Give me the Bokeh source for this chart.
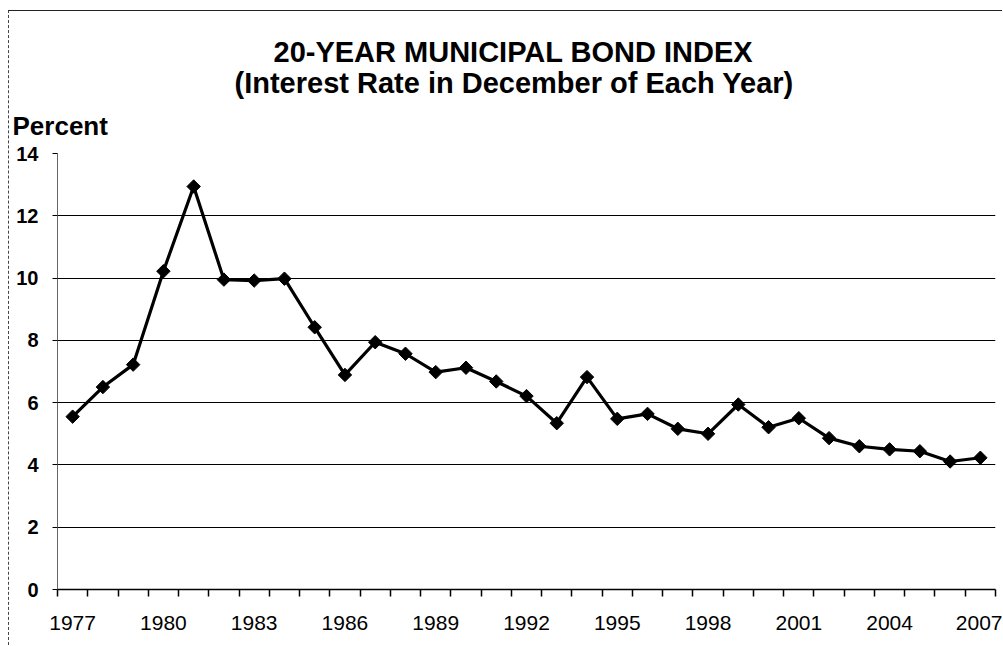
import math
from bokeh.plotting import figure
from bokeh.models import Range1d, FixedTicker, Title
from bokeh.embed import file_html
from bokeh.resources import INLINE

years = list(range(1977, 2008))
rates = [5.55, 6.50, 7.22, 10.22, 12.94, 9.95, 9.92, 9.98, 8.42, 6.89,
         7.94, 7.57, 6.98, 7.12, 6.68, 6.21, 5.34, 6.82, 5.48, 5.64,
         5.16, 5.00, 5.94, 5.21, 5.50, 4.86, 4.60, 4.50, 4.44, 4.11, 4.23]
tick_years = [1977, 1980, 1983, 1986, 1989, 1992, 1995, 1998, 2001, 2004, 2007]
y_ticks = [0, 2, 4, 6, 8, 10, 12, 14]
title_lines = ["20-YEAR MUNICIPAL BOND INDEX", "(Interest Rate in December of Each Year)"]
y_title = "Percent"

FONT = "Liberation Sans"

W, H = 994, 635
FL, FT, FR, FB = 48, 142, 986, 578

p = figure(width=W, height=H, output_backend="svg", toolbar_location=None,
           title=None,
           x_range=Range1d(years[0] - 0.5, years[-1] + 0.5),
           y_range=Range1d(0, 14),
           min_border_left=FL, min_border_top=FT,
           min_border_right=W - FR, min_border_bottom=H - FB)
p.margin = (10, 0, 0, 8)
p.styles = {"border-top": "1px solid #222", "border-left": "1px dashed #444"}
p.outline_line_color = None
p.background_fill_color = "white"
p.border_fill_color = "white"

# x axis
p.xaxis.ticker = FixedTicker(ticks=tick_years,
                             minor_ticks=[y - 0.5 for y in years] + [years[-1] + 0.5])
p.xaxis.major_tick_in = 0
p.xaxis.major_tick_out = 0
p.xaxis.minor_tick_in = 0
p.xaxis.minor_tick_out = 7
p.xaxis.minor_tick_line_color = "black"
p.xaxis.minor_tick_line_width = 1.5
p.xaxis.axis_line_color = "black"
p.xaxis.axis_line_width = 1.5
p.xaxis.major_label_text_font = FONT
p.xaxis.major_label_text_font_size = "21px"
p.xaxis.major_label_text_color = "black"
p.xaxis.major_label_standoff = 19

# y axis
p.yaxis.ticker = FixedTicker(ticks=y_ticks)
p.yaxis.major_tick_in = 0
p.yaxis.major_tick_out = 5
p.yaxis.minor_tick_out = 0
p.yaxis.minor_tick_in = 0
p.yaxis.axis_line_color = "#666666"
p.yaxis.major_tick_line_color = "black"
p.yaxis.major_label_text_font = FONT
p.yaxis.major_label_text_font_size = "20px"
p.yaxis.major_label_text_font_style = "bold"
p.yaxis.major_label_text_color = "black"
p.yaxis.major_label_standoff = 14

p.xgrid.grid_line_color = None
p.ygrid.ticker = FixedTicker(ticks=y_ticks)
p.ygrid.grid_line_color = "black"
p.ygrid.grid_line_width = 1.2

p.line(years, rates, line_color="black", line_width=3.2)
p.scatter(years, rates, marker="square", angle=math.pi / 4, size=9.5,
          fill_color="black", line_color="black")

p.add_layout(Title(text=y_title, align="left", offset=-45, standoff=25,
                   text_font=FONT, text_font_size="26px", text_font_style="bold",
                   text_color="black"), "above")
p.add_layout(Title(text=title_lines[1], align="left", offset=177, standoff=-5,
                   text_font=FONT, text_font_size="29px", text_font_style="bold",
                   text_color="black"), "above")
p.add_layout(Title(text=title_lines[0], align="left", offset=216, standoff=0,
                   text_font=FONT, text_font_size="29px", text_font_style="bold",
                   text_color="black"), "above")

open("out.html", "w").write(file_html(p, INLINE))
